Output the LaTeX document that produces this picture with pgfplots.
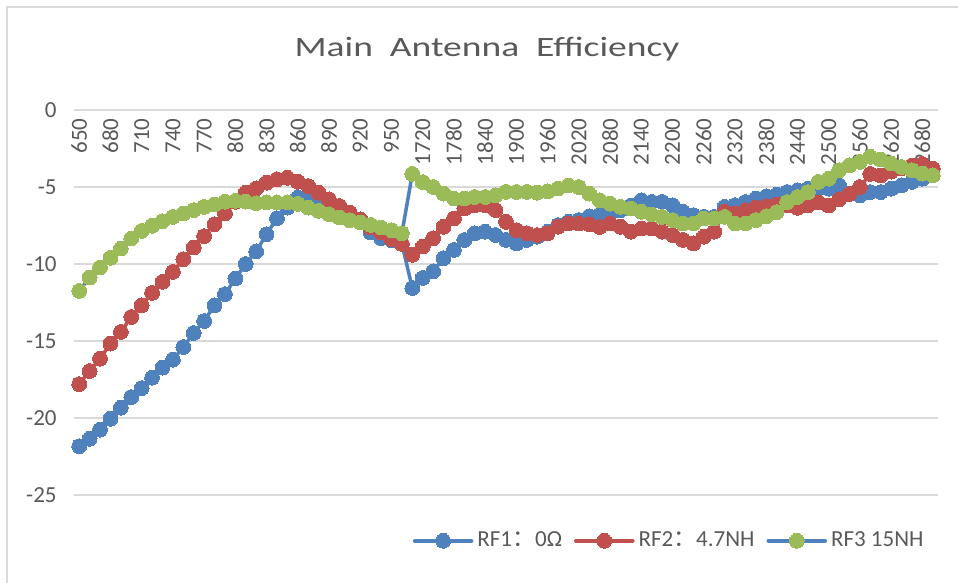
\documentclass[border=0pt]{standalone}
\usepackage{fontspec}
\setmainfont{Carlito}
\newfontfamily\cjk{Noto Sans CJK SC}
\usepackage{graphicx}
\usepackage{pgfplots}
\usepackage{pgfplotstable}
\pgfplotsset{compat=1.18}

\definecolor{rfblue}{HTML}{4F81BD}
\definecolor{rfred}{HTML}{C0504D}
\definecolor{rfgreen}{HTML}{9BBB59}
\definecolor{txtgray}{HTML}{595959}
\definecolor{gridgray}{HTML}{D9D9D9}

% idx 0-31: 650-960 MHz (step 10), idx 32-82: 1700-2700 MHz (step 20)
\pgfplotstableread{
idx rf1 rf2 rf3
0 -21.83 -17.80 -11.75
1 -21.35 -16.95 -10.88
2 -20.76 -16.15 -10.23
3 -20.05 -15.17 -9.60
4 -19.33 -14.41 -9.00
5 -18.64 -13.44 -8.34
6 -18.06 -12.68 -7.85
7 -17.38 -11.88 -7.52
8 -16.73 -11.16 -7.22
9 -16.21 -10.51 -6.94
10 -15.39 -9.69 -6.72
11 -14.48 -8.93 -6.50
12 -13.70 -8.19 -6.29
13 -12.68 -7.41 -6.13
14 -11.96 -6.72 -5.96
15 -10.94 -5.96 -5.90
16 -10.00 -5.37 -5.95
17 -9.18 -5.09 -6.05
18 -8.06 -4.72 -6.00
19 -7.03 -4.50 -6.00
20 -6.34 -4.40 -6.00
21 -5.69 -4.66 -6.10
22 -5.69 -4.94 -6.34
23 -5.90 -5.37 -6.55
24 -6.12 -5.80 -6.77
25 -6.55 -6.23 -6.98
26 -6.98 -6.66 -7.16
27 -7.30 -7.10 -7.30
28 -7.95 -7.63 -7.46
29 -8.32 -7.95 -7.63
30 -8.45 -8.38 -7.80
31 -8.70 -8.70 -8.00
32 -11.56 -9.40 -4.15
33 -10.90 -8.87 -4.68
34 -10.48 -8.33 -5.00
35 -9.62 -7.58 -5.43
36 -9.09 -7.04 -5.75
37 -8.44 -6.40 -5.75
38 -8.01 -6.18 -5.65
39 -7.90 -6.18 -5.65
40 -8.12 -6.50 -5.54
41 -8.44 -7.26 -5.32
42 -8.66 -7.80 -5.32
43 -8.44 -8.00 -5.32
44 -8.23 -8.12 -5.37
45 -7.90 -8.00 -5.28
46 -7.47 -7.58 -5.10
47 -7.26 -7.37 -4.90
48 -7.15 -7.37 -5.00
49 -6.90 -7.42 -5.43
50 -6.80 -7.60 -5.86
51 -6.72 -7.37 -6.08
52 -6.51 -7.58 -6.29
53 -6.20 -7.90 -6.40
54 -5.86 -7.69 -6.61
55 -5.97 -7.69 -6.78
56 -5.97 -7.90 -6.94
57 -6.18 -8.12 -7.15
58 -6.61 -8.44 -7.37
59 -6.83 -8.66 -7.37
60 -6.94 -8.23 -7.04
61 -6.94 -7.90 -7.04
62 -6.29 -6.61 -6.94
63 -6.18 -6.72 -7.37
64 -5.97 -6.51 -7.37
65 -5.75 -6.35 -7.15
66 -5.60 -6.25 -6.90
67 -5.50 -6.15 -6.63
68 -5.33 -6.20 -5.98
69 -5.22 -6.35 -5.65
70 -5.11 -6.20 -5.33
71 -5.10 -6.00 -4.67
72 -5.11 -6.20 -4.46
73 -4.89 -5.80 -3.91
74 -5.43 -5.45 -3.59
75 -5.54 -5.00 -3.37
76 -5.33 -4.15 -3.04
77 -5.33 -4.25 -3.22
78 -5.11 -4.00 -3.48
79 -4.89 -3.80 -3.70
80 -4.67 -3.60 -3.91
81 -4.46 -3.50 -4.13
82 -4.24 -3.80 -4.24
}\effdata

\begin{document}
\begin{tikzpicture}
\useasboundingbox (0,0) rectangle (479pt,-291.5pt);
\draw[gridgray, line width=1pt] (3.5pt,-291.5pt) -- (3.5pt,-3.5pt) -- (479pt,-3.5pt);
\node[text=txtgray, font=\fontsize{14}{16}\selectfont] at (243.5pt,-24.5pt) {\scalebox{1.34}[1]{Main\ \ Antenna\ \ Efficiency}};
\begin{axis}[
  at={(37pt,-55pt)}, anchor=north west,
  scale only axis, width=432pt, height=192.5pt,
  xmin=-0.5, xmax=82.5, ymin=-25, ymax=0,
  ytick={-25,-20,...,0},
  xtick={0,3,...,81},
  xticklabels={650,680,710,740,770,800,830,860,890,920,950,1720,1780,1840,1900,1960,2020,2080,2140,2200,2260,2320,2380,2440,2500,2560,2620,2680},
  axis line style={draw=none},
  major tick length=0pt,
  ymajorgrids, grid style={gridgray, line width=1pt},
  xticklabel pos=right,
  x tick label style={yshift=-4pt, rotate=90, anchor=east, inner sep=0pt, text=txtgray, font=\fontsize{11.5}{13}\selectfont},
  y tick label style={inner sep=0pt, anchor=east, xshift=-8.5pt, text=txtgray, font=\fontsize{11.5}{13}\selectfont},
  /pgf/number format/assume math mode=true,
  legend columns=3,
  legend style={at={(0.69,-0.119)}, anchor=center, draw=none, fill=none,
    text=txtgray, font=\fontsize{11.5}{13}\selectfont,
    /tikz/every even column/.append style={column sep=4pt}},
  legend image code/.code={\draw[mark repeat=2, mark phase=2, #1] plot coordinates {(0pt,0pt) (14.25pt,0pt) (28.5pt,0pt)};},
  every axis plot/.append style={line width=1.75pt, line cap=round, line join=round, mark=*, mark size=3.7pt},
]
\addplot[color=rfblue, mark options={fill=rfblue, draw=rfblue, line width=0pt}] table[x=idx, y=rf1] {\effdata};
\addlegendentry{RF1{\cjk ：}0Ω}
\addplot[color=rfred, mark options={fill=rfred, draw=rfred, line width=0pt}] table[x=idx, y=rf2] {\effdata};
\addlegendentry{RF2{\cjk ：}4.7NH}
\addplot[color=rfblue, mark options={fill=rfgreen, draw=rfgreen, line width=0pt}] table[x=idx, y=rf3] {\effdata};
\addlegendentry{RF3 15NH}
\end{axis}
\end{tikzpicture}
\end{document}
